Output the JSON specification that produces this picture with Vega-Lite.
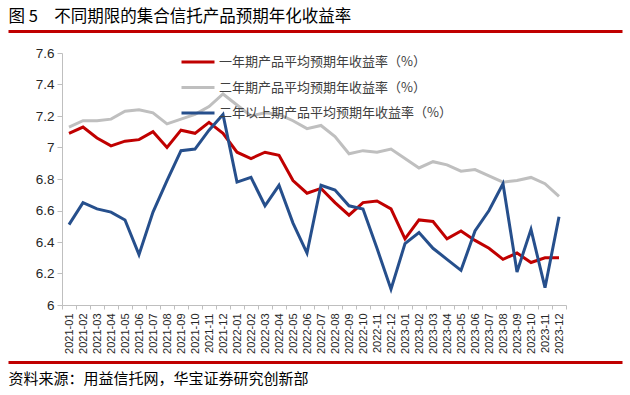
{
  "$schema": "https://vega.github.io/schema/vega-lite/v6.json",
  "width": 504,
  "height": 252,
  "autosize": {"type": "none"},
  "padding": {"left": 62, "top": 53, "right": 64, "bottom": 90},
  "background": "white",
  "config": {"view": {"stroke": null}},
  "datasets": {
    "rates": [
      {"month":"2021-01","series":"一年期产品平均预期年收益率（%）","value":7.09},
      {"month":"2021-02","series":"一年期产品平均预期年收益率（%）","value":7.13},
      {"month":"2021-03","series":"一年期产品平均预期年收益率（%）","value":7.06},
      {"month":"2021-04","series":"一年期产品平均预期年收益率（%）","value":7.01},
      {"month":"2021-05","series":"一年期产品平均预期年收益率（%）","value":7.04},
      {"month":"2021-06","series":"一年期产品平均预期年收益率（%）","value":7.05},
      {"month":"2021-07","series":"一年期产品平均预期年收益率（%）","value":7.10},
      {"month":"2021-08","series":"一年期产品平均预期年收益率（%）","value":7.00},
      {"month":"2021-09","series":"一年期产品平均预期年收益率（%）","value":7.11},
      {"month":"2021-10","series":"一年期产品平均预期年收益率（%）","value":7.09},
      {"month":"2021-11","series":"一年期产品平均预期年收益率（%）","value":7.16},
      {"month":"2021-12","series":"一年期产品平均预期年收益率（%）","value":7.09},
      {"month":"2022-01","series":"一年期产品平均预期年收益率（%）","value":6.97},
      {"month":"2022-02","series":"一年期产品平均预期年收益率（%）","value":6.93},
      {"month":"2022-03","series":"一年期产品平均预期年收益率（%）","value":6.97},
      {"month":"2022-04","series":"一年期产品平均预期年收益率（%）","value":6.95},
      {"month":"2022-05","series":"一年期产品平均预期年收益率（%）","value":6.79},
      {"month":"2022-06","series":"一年期产品平均预期年收益率（%）","value":6.71},
      {"month":"2022-07","series":"一年期产品平均预期年收益率（%）","value":6.74},
      {"month":"2022-08","series":"一年期产品平均预期年收益率（%）","value":6.65},
      {"month":"2022-09","series":"一年期产品平均预期年收益率（%）","value":6.57},
      {"month":"2022-10","series":"一年期产品平均预期年收益率（%）","value":6.65},
      {"month":"2022-11","series":"一年期产品平均预期年收益率（%）","value":6.66},
      {"month":"2022-12","series":"一年期产品平均预期年收益率（%）","value":6.61},
      {"month":"2023-01","series":"一年期产品平均预期年收益率（%）","value":6.42},
      {"month":"2023-02","series":"一年期产品平均预期年收益率（%）","value":6.54},
      {"month":"2023-03","series":"一年期产品平均预期年收益率（%）","value":6.53},
      {"month":"2023-04","series":"一年期产品平均预期年收益率（%）","value":6.42},
      {"month":"2023-05","series":"一年期产品平均预期年收益率（%）","value":6.47},
      {"month":"2023-06","series":"一年期产品平均预期年收益率（%）","value":6.41},
      {"month":"2023-07","series":"一年期产品平均预期年收益率（%）","value":6.36},
      {"month":"2023-08","series":"一年期产品平均预期年收益率（%）","value":6.29},
      {"month":"2023-09","series":"一年期产品平均预期年收益率（%）","value":6.33},
      {"month":"2023-10","series":"一年期产品平均预期年收益率（%）","value":6.27},
      {"month":"2023-11","series":"一年期产品平均预期年收益率（%）","value":6.30},
      {"month":"2023-12","series":"一年期产品平均预期年收益率（%）","value":6.30},
      {"month":"2021-01","series":"二年期产品平均预期年收益率（%）","value":7.13},
      {"month":"2021-02","series":"二年期产品平均预期年收益率（%）","value":7.17},
      {"month":"2021-03","series":"二年期产品平均预期年收益率（%）","value":7.17},
      {"month":"2021-04","series":"二年期产品平均预期年收益率（%）","value":7.18},
      {"month":"2021-05","series":"二年期产品平均预期年收益率（%）","value":7.23},
      {"month":"2021-06","series":"二年期产品平均预期年收益率（%）","value":7.24},
      {"month":"2021-07","series":"二年期产品平均预期年收益率（%）","value":7.22},
      {"month":"2021-08","series":"二年期产品平均预期年收益率（%）","value":7.15},
      {"month":"2021-09","series":"二年期产品平均预期年收益率（%）","value":7.18},
      {"month":"2021-10","series":"二年期产品平均预期年收益率（%）","value":7.21},
      {"month":"2021-11","series":"二年期产品平均预期年收益率（%）","value":7.26},
      {"month":"2021-12","series":"二年期产品平均预期年收益率（%）","value":7.34},
      {"month":"2022-01","series":"二年期产品平均预期年收益率（%）","value":7.27},
      {"month":"2022-02","series":"二年期产品平均预期年收益率（%）","value":7.20},
      {"month":"2022-03","series":"二年期产品平均预期年收益率（%）","value":7.22},
      {"month":"2022-04","series":"二年期产品平均预期年收益率（%）","value":7.21},
      {"month":"2022-05","series":"二年期产品平均预期年收益率（%）","value":7.17},
      {"month":"2022-06","series":"二年期产品平均预期年收益率（%）","value":7.12},
      {"month":"2022-07","series":"二年期产品平均预期年收益率（%）","value":7.14},
      {"month":"2022-08","series":"二年期产品平均预期年收益率（%）","value":7.07},
      {"month":"2022-09","series":"二年期产品平均预期年收益率（%）","value":6.96},
      {"month":"2022-10","series":"二年期产品平均预期年收益率（%）","value":6.98},
      {"month":"2022-11","series":"二年期产品平均预期年收益率（%）","value":6.97},
      {"month":"2022-12","series":"二年期产品平均预期年收益率（%）","value":6.99},
      {"month":"2023-01","series":"二年期产品平均预期年收益率（%）","value":6.93},
      {"month":"2023-02","series":"二年期产品平均预期年收益率（%）","value":6.87},
      {"month":"2023-03","series":"二年期产品平均预期年收益率（%）","value":6.91},
      {"month":"2023-04","series":"二年期产品平均预期年收益率（%）","value":6.89},
      {"month":"2023-05","series":"二年期产品平均预期年收益率（%）","value":6.85},
      {"month":"2023-06","series":"二年期产品平均预期年收益率（%）","value":6.86},
      {"month":"2023-07","series":"二年期产品平均预期年收益率（%）","value":6.82},
      {"month":"2023-08","series":"二年期产品平均预期年收益率（%）","value":6.78},
      {"month":"2023-09","series":"二年期产品平均预期年收益率（%）","value":6.79},
      {"month":"2023-10","series":"二年期产品平均预期年收益率（%）","value":6.81},
      {"month":"2023-11","series":"二年期产品平均预期年收益率（%）","value":6.77},
      {"month":"2023-12","series":"二年期产品平均预期年收益率（%）","value":6.69},
      {"month":"2021-01","series":"二年以上期产品平均预期年收益率（%）","value":6.51},
      {"month":"2021-02","series":"二年以上期产品平均预期年收益率（%）","value":6.65},
      {"month":"2021-03","series":"二年以上期产品平均预期年收益率（%）","value":6.61},
      {"month":"2021-04","series":"二年以上期产品平均预期年收益率（%）","value":6.59},
      {"month":"2021-05","series":"二年以上期产品平均预期年收益率（%）","value":6.54},
      {"month":"2021-06","series":"二年以上期产品平均预期年收益率（%）","value":6.32},
      {"month":"2021-07","series":"二年以上期产品平均预期年收益率（%）","value":6.59},
      {"month":"2021-08","series":"二年以上期产品平均预期年收益率（%）","value":6.79},
      {"month":"2021-09","series":"二年以上期产品平均预期年收益率（%）","value":6.98},
      {"month":"2021-10","series":"二年以上期产品平均预期年收益率（%）","value":6.99},
      {"month":"2021-11","series":"二年以上期产品平均预期年收益率（%）","value":7.11},
      {"month":"2021-12","series":"二年以上期产品平均预期年收益率（%）","value":7.21},
      {"month":"2022-01","series":"二年以上期产品平均预期年收益率（%）","value":6.78},
      {"month":"2022-02","series":"二年以上期产品平均预期年收益率（%）","value":6.81},
      {"month":"2022-03","series":"二年以上期产品平均预期年收益率（%）","value":6.63},
      {"month":"2022-04","series":"二年以上期产品平均预期年收益率（%）","value":6.76},
      {"month":"2022-05","series":"二年以上期产品平均预期年收益率（%）","value":6.52},
      {"month":"2022-06","series":"二年以上期产品平均预期年收益率（%）","value":6.33},
      {"month":"2022-07","series":"二年以上期产品平均预期年收益率（%）","value":6.76},
      {"month":"2022-08","series":"二年以上期产品平均预期年收益率（%）","value":6.73},
      {"month":"2022-09","series":"二年以上期产品平均预期年收益率（%）","value":6.63},
      {"month":"2022-10","series":"二年以上期产品平均预期年收益率（%）","value":6.61},
      {"month":"2022-11","series":"二年以上期产品平均预期年收益率（%）","value":6.36},
      {"month":"2022-12","series":"二年以上期产品平均预期年收益率（%）","value":6.10},
      {"month":"2023-01","series":"二年以上期产品平均预期年收益率（%）","value":6.39},
      {"month":"2023-02","series":"二年以上期产品平均预期年收益率（%）","value":6.46},
      {"month":"2023-03","series":"二年以上期产品平均预期年收益率（%）","value":6.36},
      {"month":"2023-04","series":"二年以上期产品平均预期年收益率（%）","value":6.29},
      {"month":"2023-05","series":"二年以上期产品平均预期年收益率（%）","value":6.22},
      {"month":"2023-06","series":"二年以上期产品平均预期年收益率（%）","value":6.47},
      {"month":"2023-07","series":"二年以上期产品平均预期年收益率（%）","value":6.60},
      {"month":"2023-08","series":"二年以上期产品平均预期年收益率（%）","value":6.77},
      {"month":"2023-09","series":"二年以上期产品平均预期年收益率（%）","value":6.21},
      {"month":"2023-10","series":"二年以上期产品平均预期年收益率（%）","value":6.48},
      {"month":"2023-11","series":"二年以上期产品平均预期年收益率（%）","value":6.11},
      {"month":"2023-12","series":"二年以上期产品平均预期年收益率（%）","value":6.56}
    ]
  },
  "layer": [
    {
      "data": {"name": "rates"},
      "mark": {"type": "line", "strokeWidth": 3},
      "encoding": {
        "x": {
          "field": "month", "type": "ordinal", "sort": null,
          "scale": {"type": "band", "paddingInner": 0, "paddingOuter": 0},
          "axis": {
            "title": null, "labelAngle": 270, "labelFont": "Liberation Sans", "labelFontSize": 11,
            "labelColor": "#262626", "tickBand": "extent", "tickSize": 4, "tickColor": "#BFBFBF",
            "domainColor": "#BFBFBF", "domainWidth": 1, "labelPadding": 4, "labelOverlap": false, "grid": false
          }
        },
        "y": {
          "field": "value", "type": "quantitative",
          "scale": {"domain": [6, 7.6], "nice": false, "zero": false},
          "axis": {
            "title": null, "values": [6, 6.2, 6.4, 6.6, 6.8, 7, 7.2, 7.4, 7.6], "format": ".1~f",
            "grid": false, "tickSize": 5, "labelPadding": 3, "labelFont": "Liberation Sans", "labelFontSize": 13.5,
            "labelColor": "#262626", "tickColor": "#BFBFBF", "domainColor": "#BFBFBF"
          }
        },
        "color": {
          "field": "series", "type": "nominal", "sort": null,
          "scale": {
            "domain": ["一年期产品平均预期年收益率（%）", "二年期产品平均预期年收益率（%）", "二年以上期产品平均预期年收益率（%）"],
            "range": ["#C00000", "#BFBFBF", "#264F8C"]
          },
          "legend": {
            "title": null, "orient": "none", "legendX": 118, "legendY": -9, "padding": 0,
            "symbolType": "stroke", "symbolSize": 1089, "symbolStrokeWidth": 3,
            "labelFont": "Noto Sans CJK SC", "labelFontSize": 13, "labelColor": "#404040",
            "labelLimit": 400, "labelOffset": 3, "rowPadding": 0.5
          }
        }
      }
    },
    {
      "data": {"values": [{}]},
      "mark": {"type": "point", "opacity": 0},
      "encoding": {
        "x": {
          "datum": 0, "type": "quantitative",
          "scale": {"domain": [0, 1], "range": [-54, 560]},
          "axis": {
            "orient": "top", "offset": 22, "domainColor": "#C00000", "domainWidth": 3,
            "ticks": false, "labels": false, "grid": false,
            "title": "图 5　不同期限的集合信托产品预期年化收益率",
            "titleX": -54, "titleY": -15, "titleAlign": "left", "titleBaseline": "middle",
            "titleFont": "Noto Sans CJK SC", "titleFontSize": 16.5, "titleFontWeight": "normal", "titleColor": "#000000"
          }
        }
      }
    },
    {
      "data": {"values": [{}]},
      "mark": {"type": "point", "opacity": 0},
      "encoding": {
        "x": {
          "datum": 0, "type": "quantitative",
          "scale": {"domain": [0, 1], "range": [-54, 560]},
          "axis": {
            "orient": "bottom", "offset": 57, "domainColor": "#C00000", "domainWidth": 3,
            "ticks": false, "labels": false, "grid": false,
            "title": "资料来源：用益信托网，华宝证券研究创新部",
            "titleX": -54, "titleY": 16, "titleAlign": "left", "titleBaseline": "middle",
            "titleFont": "Noto Sans CJK SC", "titleFontSize": 15, "titleFontWeight": "normal", "titleColor": "#000000"
          }
        }
      }
    }
  ],
  "resolve": {"scale": {"x": "independent"}, "axis": {"x": "independent"}}
}
